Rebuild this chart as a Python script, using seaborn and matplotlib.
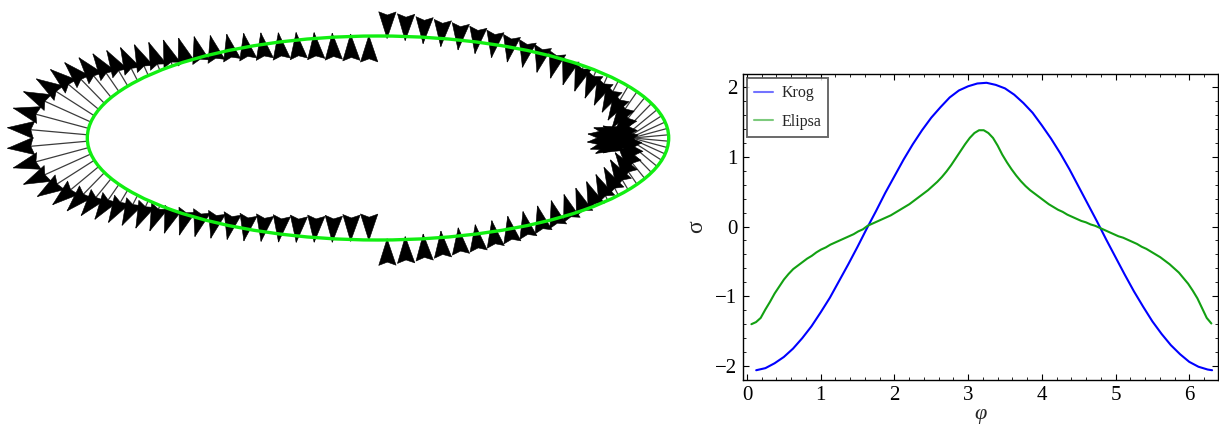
import numpy as np
import matplotlib
matplotlib.use("Agg")
import matplotlib.pyplot as plt
from matplotlib.patches import Ellipse, Polygon
from matplotlib.collections import LineCollection, PatchCollection
from matplotlib.ticker import MultipleLocator
import seaborn as sns

# Normal stress along the elliptic boundary, 100 equally spaced angles
phi_ellipse = np.linspace(0.06, 6.30, 100)
sigma_ellipse = [
    -1.40, -1.37, -1.31, -1.19, -1.08, -0.96, -0.86, -0.76, -0.68, -0.61,
    -0.56, -0.51, -0.46, -0.42, -0.37, -0.33, -0.30, -0.26, -0.23, -0.20,
    -0.17, -0.14, -0.11, -0.07, -0.04, 0.01, 0.04, 0.07, 0.10, 0.13,
    0.16, 0.20, 0.24, 0.28, 0.32, 0.37, 0.42, 0.47, 0.52, 0.58,
    0.64, 0.71, 0.79, 0.88, 0.98, 1.08, 1.18, 1.27, 1.34, 1.38,
    1.38, 1.34, 1.27, 1.16, 1.03, 0.92, 0.82, 0.73, 0.65, 0.58,
    0.52, 0.47, 0.42, 0.37, 0.32, 0.28, 0.24, 0.21, 0.17, 0.14,
    0.11, 0.08, 0.06, 0.03, 0.01, -0.02, -0.05, -0.08, -0.11, -0.14,
    -0.16, -0.19, -0.22, -0.25, -0.29, -0.32, -0.36, -0.40, -0.44, -0.49,
    -0.54, -0.60, -0.66, -0.74, -0.82, -0.92, -1.03, -1.17, -1.31, -1.39,
]

# Normal stress along the circular boundary
phi_circle = [0.125, 0.25, 0.375, 0.5, 0.625, 0.75, 0.875, 1.0, 1.125, 1.25,
              1.375, 1.5, 1.625, 1.75, 1.875, 2.0, 2.125, 2.25, 2.375, 2.5,
              2.625, 2.75, 2.875, 3.0, 3.125, 3.25, 3.375, 3.5, 3.625, 3.75,
              3.875, 4.0, 4.125, 4.25, 4.375, 4.5, 4.625, 4.75, 4.875, 5.0,
              5.125, 5.25, 5.375, 5.5, 5.625, 5.75, 5.875, 6.0, 6.125, 6.25, 6.31]
sigma_circle = [-2.06, -2.03, -1.96, -1.87, -1.75, -1.60, -1.43, -1.23, -1.02, -0.78,
                -0.54, -0.29, -0.03, 0.22, 0.48, 0.72, 0.96, 1.18, 1.38, 1.56,
                1.71, 1.85, 1.95, 2.01, 2.05, 2.06, 2.03, 1.98, 1.89, 1.77,
                1.63, 1.45, 1.26, 1.05, 0.82, 0.57, 0.32, 0.07, -0.19, -0.44,
                -0.69, -0.93, -1.15, -1.36, -1.54, -1.70, -1.83, -1.94, -2.01, -2.05, -2.06]

series_labels = ["Krog", "Elipsa"]
x_ticks = [0, 1, 2, 3, 4, 5, 6]
y_ticks = [-2, -1, 0, 1, 2]

sns.set_theme(style="white")
plt.rcParams["font.family"] = ["Liberation Serif", "DejaVu Serif"]

W_PX, H_PX = 1219, 426
fig = plt.figure(figsize=(W_PX / 100, H_PX / 100), dpi=100)

# ---- left: ellipse with stress arrows along the outward normal ----
ax0 = fig.add_axes([0, 0, 680 / W_PX, 1])
A, B = 2.85, 1.0
ax0.set_xlim(-378 / 102, 302 / 102)
ax0.set_ylim(-288 / 102, 138 / 102)
ax0.axis("off")

sig = np.asarray(sigma_ellipse)
N = len(sig)
theta = (np.arange(N) + 0.5) * 2 * np.pi / N
px, py = A * np.cos(theta), B * np.sin(theta)
nx, ny = B * np.cos(theta), A * np.sin(theta)
nn = np.hypot(nx, ny)
nx, ny = nx / nn, ny / nn
scale = 0.57
tx, ty = px + scale * sig * nx, py + scale * sig * ny
direction = np.where(sig >= 0, 1.0, -1.0)
ux, uy = direction * nx, direction * ny

head_len, head_w, notch = 0.26, 0.17, 0.12
shafts = [[(px[i], py[i]), (tx[i], ty[i])] for i in range(N)]
ax0.add_collection(LineCollection(shafts, colors="#3c3c3c", linewidths=0.9, zorder=1))

heads = []
for i in range(N):
    bx, by = tx[i] - head_len * ux[i], ty[i] - head_len * uy[i]
    qx, qy = -uy[i], ux[i]
    mx, my = tx[i] - (1 - notch) * head_len * ux[i], ty[i] - (1 - notch) * head_len * uy[i]
    heads.append(Polygon([(tx[i], ty[i]),
                          (bx + head_w / 2 * qx, by + head_w / 2 * qy),
                          (mx, my),
                          (bx - head_w / 2 * qx, by - head_w / 2 * qy)], closed=True))
ax0.add_collection(PatchCollection(heads, facecolor="black", edgecolor="black",
                                   linewidth=0.4, zorder=2))
ax0.add_patch(Ellipse((0, 0), 2 * A, 2 * B, fill=False, ec="#11ee11", lw=2.4, zorder=3))

# ---- right: stress versus angle ----
ax1 = fig.add_axes([743 / W_PX, 1 - 380 / H_PX, 475 / W_PX, 306 / H_PX])
sns.lineplot(x=phi_circle, y=sigma_circle, ax=ax1, color="#0000ff", lw=1.5,
             label=series_labels[0])
sns.lineplot(x=phi_ellipse, y=sigma_ellipse, ax=ax1, color="#12a012", lw=1.5,
             label=series_labels[1])
ax1.set_xlim(-0.054, 6.39)
ax1.set_ylim(-2.2, 2.186)
ax1.set_xticks(x_ticks)
ax1.set_yticks(y_ticks)
ax1.xaxis.set_minor_locator(MultipleLocator(0.2))
ax1.yaxis.set_minor_locator(MultipleLocator(0.2))
ax1.tick_params(which="both", direction="in", top=True, right=True,
                bottom=True, left=True, colors="black", labelsize=15)
ax1.tick_params(which="major", length=4.5, width=0.8, pad=4)
ax1.tick_params(which="minor", length=2.2, width=0.6)
for sp in ax1.spines.values():
    sp.set_visible(True)
    sp.set_color("black")
    sp.set_linewidth(1.0)
ax1.set_facecolor("white")
ax1.set_xlabel("φ", fontsize=16, style="italic", labelpad=0)
ax1.set_ylabel("σ", fontsize=17, labelpad=6)

leg = ax1.legend(loc="upper left", frameon=True, fancybox=False, fontsize=11.5,
                 handlelength=1.2, handletextpad=0.5, labelspacing=0.8,
                 borderpad=0.45, borderaxespad=0.25)
leg.get_frame().set_edgecolor("#444444")
leg.get_frame().set_linewidth(1.4)
for h in leg.get_lines():
    h.set_alpha(0.55)

fig.savefig("out.png", dpi=100, facecolor="white")
